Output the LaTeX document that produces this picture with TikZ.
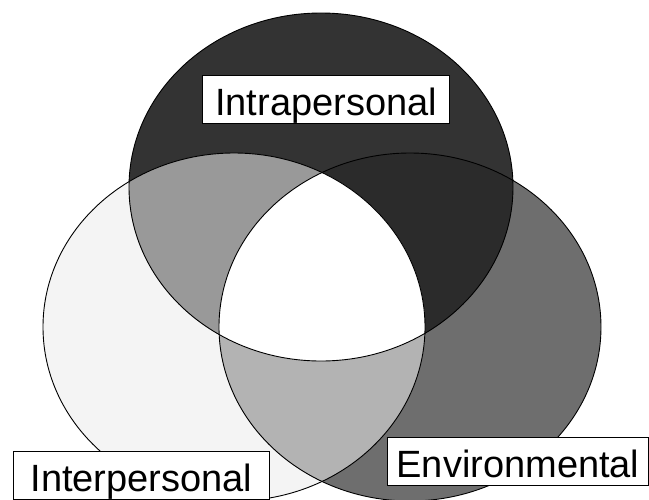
\documentclass[tikz,border=0pt]{standalone}
\usepackage{fontspec}
\setmainfont{Liberation Sans}
\usepackage{tikz}
\usepackage{xcolor}
\definecolor{IntraGray}{HTML}{333333}
\definecolor{InterGray}{HTML}{F4F4F4}
\definecolor{EnvGray}{HTML}{6E6E6E}
\definecolor{IntraInterGray}{HTML}{999999}
\definecolor{IntraEnvGray}{HTML}{2B2B2B}
\definecolor{InterEnvGray}{HTML}{B3B3B3}

\begin{document}
\begin{tikzpicture}[
    x=1pt, y=-1pt,
    setline/.style={
        draw=black,
        line width=0.9pt
    },
    setbox/.style={
        draw=black,
        fill=white,
        line width=0.9pt,
        inner xsep=13pt,
        inner ysep=1pt,
        text height=39pt,
        text depth=7pt,
        font=\fontsize{38}{40}\selectfont
    }
]

\useasboundingbox (0,0) rectangle (649,499);

\coordinate (intra) at (321,187);
\coordinate (inter) at (234,327);
\coordinate (env) at (410,327);

% single sets
\fill[InterGray] (inter) ellipse [x radius=191pt, y radius=174pt];
\fill[EnvGray] (env) ellipse [x radius=191pt, y radius=174pt];
\fill[IntraGray] (intra) ellipse [x radius=192pt, y radius=174pt];

% pairs
\begin{scope}
    \clip (intra) ellipse [x radius=192pt, y radius=174pt];
    \fill[IntraInterGray] (inter) ellipse [x radius=191pt, y radius=174pt];
    \fill[IntraEnvGray] (env) ellipse [x radius=191pt, y radius=174pt];
\end{scope}
\begin{scope}
    \clip (inter) ellipse [x radius=191pt, y radius=174pt];
    \fill[InterEnvGray] (env) ellipse [x radius=191pt, y radius=174pt];
\end{scope}

% all three
\begin{scope}
    \clip (intra) ellipse [x radius=192pt, y radius=174pt];
    \clip (inter) ellipse [x radius=191pt, y radius=174pt];
    \fill[white] (env) ellipse [x radius=191pt, y radius=174pt];
\end{scope}

\draw[setline] (inter) ellipse [x radius=191pt, y radius=174pt];
\draw[setline] (env) ellipse [x radius=191pt, y radius=174pt];
\draw[setline] (intra) ellipse [x radius=192pt, y radius=174pt];

\node[setbox] (intralabel) at (326,99) {Intrapersonal};
\node[setbox, inner xsep=17pt] (interlabel) at (141.5,475) {Interpersonal};
\node[setbox, inner xsep=9pt] (envlabel) at (518,461) {Environmental};

\end{tikzpicture}
\end{document}
